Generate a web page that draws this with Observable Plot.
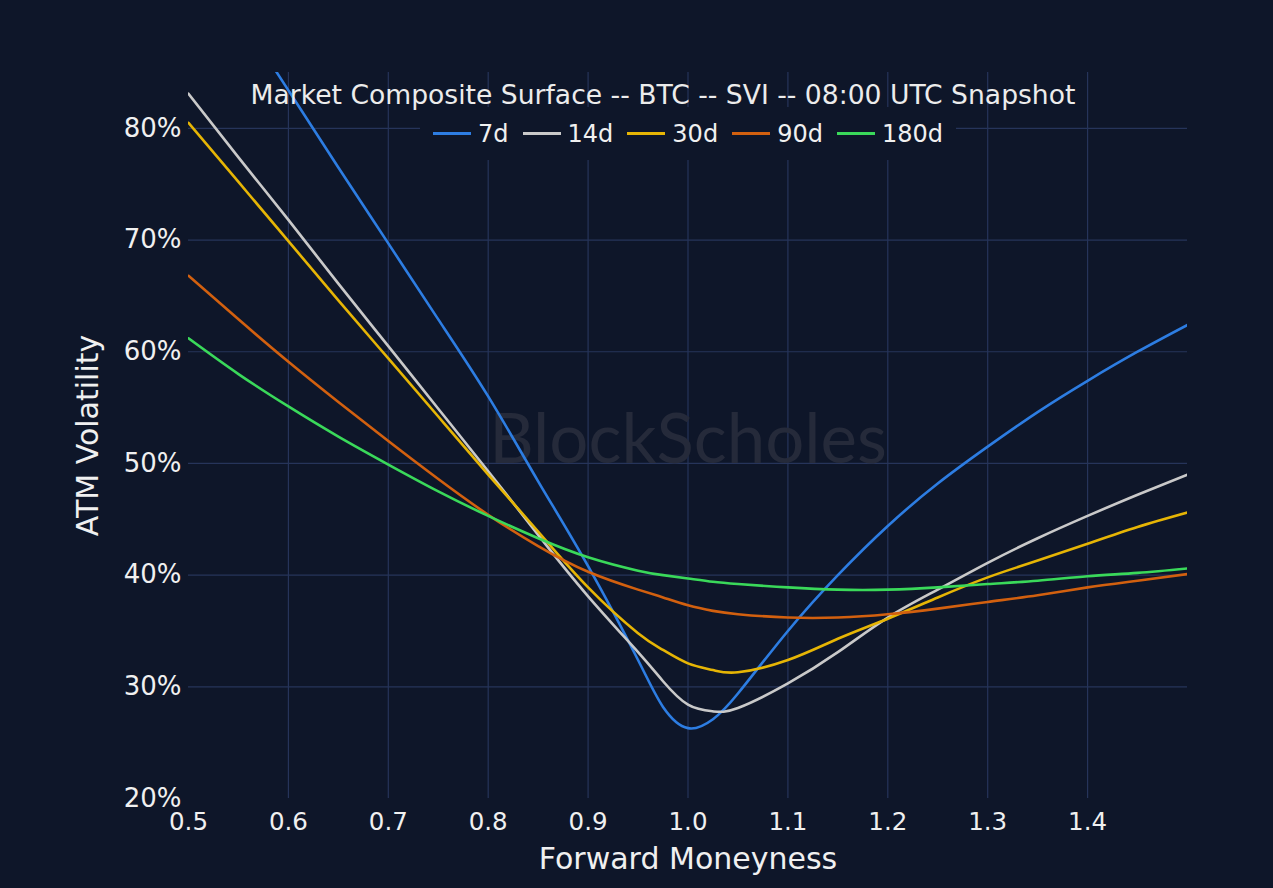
<!DOCTYPE html>
<html>
<head>
<meta charset="utf-8">
<script src="https://cdn.jsdelivr.net/npm/d3@7"></script>
<script src="https://cdn.jsdelivr.net/npm/@observablehq/plot@0.6"></script>
<style>
  html, body { margin: 0; padding: 0; background: #0e1629; }
  #wrap { position: relative; width: 1273px; height: 888px; font-family: "DejaVu Sans", sans-serif; }
  #legend {
    position: absolute; left: 420px; top: 107px; width: 536px; height: 53px;
    background: #0e1629; display: flex; align-items: center; justify-content: center;
    color: #f0f0f0; font-size: 24px;
  }
  #legend .item { display: flex; align-items: center; margin: 0 7px; }
  #legend .sw { width: 38px; height: 3px; margin-right: 7px; }
</style>
</head>
<body>
<div id="wrap">
  <div id="chart"></div>
  <div id="legend"></div>
</div>
<script>
const TITLE = "Market Composite Surface -- BTC -- SVI -- 08:00 UTC Snapshot";
const SERIES = ["7d", "14d", "30d", "90d", "180d"];
const COLORS = ["#2d7de2", "#c9c9c9", "#e6b505", "#d2600f", "#3ad95a"];
const MONEYNESS = [0.5, 0.55, 0.6, 0.65, 0.7, 0.75, 0.8, 0.85, 0.9, 0.95, 0.975, 1.0, 1.025, 1.05, 1.1, 1.15, 1.2, 1.25, 1.3, 1.35, 1.4, 1.45, 1.5];
// ATM vol in percent, one value per MONEYNESS point
const VOL_7D   = [97.1, 90.3, 83.4, 76.5, 69.7, 62.9, 56.0, 48.4, 40.8, 32.4, 28.2, 26.3, 27.1, 29.4, 35.0, 40.0, 44.4, 48.2, 51.5, 54.6, 57.4, 60.0, 62.4];
const VOL_14D  = [83.1, 77.4, 71.8, 66.1, 60.5, 54.9, 49.3, 43.6, 38.1, 33.1, 30.5, 28.4, 27.8, 28.1, 30.3, 33.1, 36.2, 38.7, 41.1, 43.3, 45.3, 47.2, 49.0];
const VOL_30D  = [80.5, 75.2, 69.9, 64.6, 59.4, 54.2, 49.0, 43.9, 38.9, 34.8, 33.3, 32.1, 31.5, 31.3, 32.4, 34.3, 36.1, 38.0, 39.8, 41.3, 42.8, 44.3, 45.6];
const VOL_90D  = [66.8, 62.9, 59.1, 55.5, 52.0, 48.6, 45.4, 42.6, 40.3, 38.7, 38.0, 37.3, 36.8, 36.5, 36.2, 36.2, 36.5, 37.0, 37.6, 38.2, 38.9, 39.5, 40.1];
const VOL_180D = [61.2, 58.0, 55.1, 52.4, 49.9, 47.5, 45.3, 43.3, 41.6, 40.4, 40.0, 39.7, 39.4, 39.2, 38.9, 38.7, 38.7, 38.9, 39.2, 39.5, 39.9, 40.2, 40.6];
const X_TICKS = [0.5, 0.6, 0.7, 0.8, 0.9, 1.0, 1.1, 1.2, 1.3, 1.4];
const X_GRID = [0.6, 0.7, 0.8, 0.9, 1.0, 1.1, 1.2, 1.3, 1.4];
const Y_TICKS = [20, 30, 40, 50, 60, 70, 80];
const Y_GRID = [30, 40, 50, 60, 70, 80];

const BG = "#0e1629";
const GRID = "#26345a";
const TEXT = "#f0f0f0";

const vols = [VOL_7D, VOL_14D, VOL_30D, VOL_90D, VOL_180D];
const rows = SERIES.flatMap((s, i) => MONEYNESS.map((m, j) => ({ series: s, m, vol: vols[i][j] })));

const plot = Plot.plot({
  width: 1273,
  height: 888,
  marginLeft: 188,
  marginRight: 86,
  marginTop: 72,
  marginBottom: 90,
  style: { background: BG, color: TEXT, fontFamily: '"DejaVu Sans", sans-serif' },
  x: { domain: [0.5, 1.5] },
  y: { domain: [20, 85] },
  color: { domain: SERIES, range: COLORS },
  marks: [
    Plot.gridX(X_GRID, { stroke: GRID, strokeOpacity: 1, strokeWidth: 1.2 }),
    Plot.gridY(Y_GRID, { stroke: GRID, strokeOpacity: 1, strokeWidth: 1.2 }),
    Plot.text(["BlockScholes"], { frameAnchor: "middle", dy: 5, fontSize: 69, fill: "#252a3a", fontFamily: "Lato", textAnchor: "middle", lineAnchor: "middle" }),
    Plot.axisX(X_TICKS, { tickSize: 0, tickPadding: 14, tickFormat: d3.format(".1f"), fontSize: 24.5, label: null }),
    Plot.axisY(Y_TICKS, { tickSize: 0, tickPadding: 7, tickFormat: d => d + "%", fontSize: 26, label: null }),
    Plot.text(["Forward Moneyness"], { frameAnchor: "bottom", dy: 61, fontSize: 30, textAnchor: "middle", lineAnchor: "middle" }),
    Plot.text(["ATM Volatility"], { frameAnchor: "left", dx: -100, rotate: -90, fontSize: 30, textAnchor: "middle", lineAnchor: "middle" }),
    Plot.line(rows, { x: "m", y: "vol", z: "series", stroke: "series", curve: "natural", strokeWidth: 2.6, clip: true }),
    Plot.text([TITLE], { frameAnchor: "top", dx: -25, dy: 23, fontSize: 26.6, fill: "#ececec", textAnchor: "middle", lineAnchor: "middle" })
  ]
});
document.getElementById("chart").append(plot);

const legend = document.getElementById("legend");
SERIES.forEach((s, i) => {
  const item = document.createElement("div");
  item.className = "item";
  const sw = document.createElement("span");
  sw.className = "sw";
  sw.style.background = COLORS[i];
  const label = document.createElement("span");
  label.textContent = s;
  item.append(sw, label);
  legend.append(item);
});
</script>
</body>
</html>
